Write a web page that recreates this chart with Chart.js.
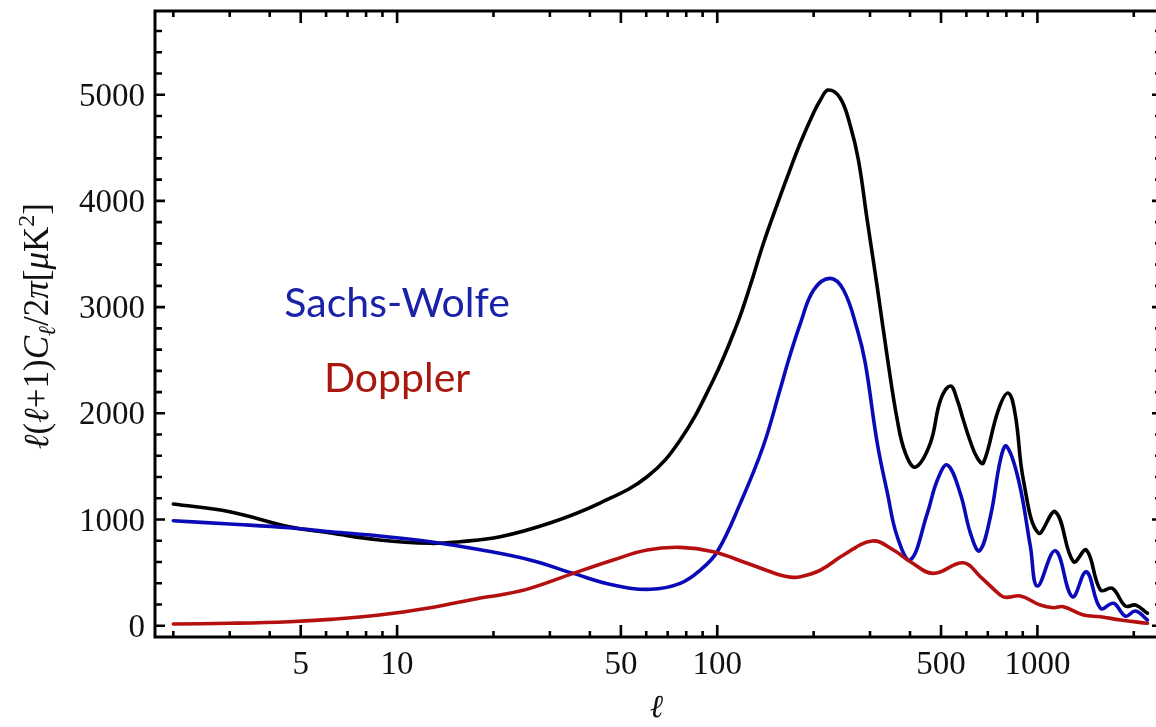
<!DOCTYPE html>
<html><head><meta charset="utf-8">
<script src="https://cdn.jsdelivr.net/npm/chart.js@4"></script>
<style>
html,body{margin:0;padding:0;overflow:hidden;background:#fff;width:1156px;height:727px}
canvas{display:block}
</style></head>
<body>
<canvas id="c" width="1170" height="727" style="width:1170px;height:727px"></canvas>
<script>
// ---- data ----
const ellTotal = [2, 3, 4.6, 6.2, 8.8, 12.7, 15.7, 21, 30, 43, 60.4, 76.6, 97.2, 115, 127, 139, 154, 169, 182, 200, 210, 222, 242, 260, 276, 294, 316, 340, 365, 387, 416, 463, 498, 535, 562, 587, 618, 649, 678, 755, 811, 853, 904, 1007, 1138, 1296, 1422, 1574, 1714, 1884, 2025, 2206];
const total    = [1146, 1073, 932, 873, 807, 776, 791, 838, 967, 1155, 1403, 1749, 2314, 2830, 3210, 3590, 3970, 4300, 4550, 4830, 4950, 5044, 4969, 4715, 4385, 3820, 3189, 2521, 1937, 1626, 1494, 1720, 2125, 2257, 2125, 1937, 1730, 1579, 1532, 2031, 2190, 1984, 1372, 873, 1073, 603, 713, 336, 352, 185, 195, 117];

const ellSW = [2, 3, 4.6, 6.2, 8.8, 12.7, 18.2, 26, 35.5, 47.3, 61.8, 76.6, 88.5, 100, 118, 139, 157, 167, 182, 200, 225, 248, 274, 290, 316, 340, 365, 401, 453, 487, 523, 574, 618, 659, 713, 766, 800, 873, 951, 1000, 1138, 1286, 1422, 1574, 1728, 1884, 2025, 2206];
const sachsWolfe = [989, 958, 923, 885, 845, 791, 715, 619, 493, 383, 343, 399, 524, 697, 1152, 1685, 2219, 2502, 2850, 3161, 3271, 3161, 2784, 2473, 1720, 1249, 838, 619, 1058, 1372, 1513, 1247, 870, 706, 1026, 1560, 1692, 1372, 744, 374, 706, 273, 508, 164, 211, 91, 138, 54];

const ellDop = [2, 3, 4.6, 6.2, 8.8, 12.7, 18.2, 21, 26, 35.5, 47.3, 60.4, 76.6, 97.2, 124, 157, 169, 182, 210, 248, 305, 355, 401, 473, 587, 664, 766, 800, 885, 1021, 1122, 1205, 1393, 1574, 1816, 2206];
const doppler = [16, 23, 38, 60, 101, 170, 262, 289, 352, 493, 619, 713, 738, 697, 588, 477, 458, 461, 524, 666, 798, 713, 603, 493, 593, 461, 289, 267, 280, 195, 170, 179, 101, 85, 54, 23];

const xTickLabels = [5, 10, 50, 100, 500, 1000];
const xMinorTicks = [2,3,4,6,7,8,9,20,30,40,60,70,80,90,200,300,400,600,700,800,900,2000];
const yTickLabels = [0, 1000, 2000, 3000, 4000, 5000];
const yMinorTicks = [200,400,600,800,1200,1400,1600,1800,2200,2400,2600,2800,3200,3400,3600,3800,4200,4400,4600,4800,5200,5400,5600];

const seriesLabels = ['Sachs-Wolfe', 'Doppler'];
const seriesLabelAnchor = { ell: [10, 10], value: [2905, 2200] };

// ---- chart ----
const toPts = (xs, ys) => xs.map((x, i) => ({ x: x, y: ys[i] }));

const framePlugin = {
  id: 'frame',
  afterDatasetsDraw(chart) {
    const { ctx, chartArea: a, scales: { x, y } } = chart;
    ctx.save();
    ctx.strokeStyle = '#000';
    ctx.lineCap = 'butt';
    ctx.lineWidth = 2.6;
    const xt = (v, len) => {
      const px = x.getPixelForValue(v);
      ctx.beginPath();
      ctx.moveTo(px, a.bottom); ctx.lineTo(px, a.bottom - len);
      ctx.moveTo(px, a.top); ctx.lineTo(px, a.top + len);
      ctx.stroke();
    };
    const yt = (v, len) => {
      const py = y.getPixelForValue(v);
      ctx.beginPath();
      ctx.moveTo(a.left, py); ctx.lineTo(a.left + len, py);
      ctx.moveTo(a.right, py); ctx.lineTo(a.right - len, py);
      ctx.stroke();
    };
    xMinorTicks.forEach(v => xt(v, 6));
    xTickLabels.forEach(v => xt(v, 12));
    yMinorTicks.forEach(v => yt(v, 7));
    yTickLabels.forEach(v => yt(v, 10));
    ctx.lineWidth = 3;
    ctx.strokeRect(a.left, a.top, a.right - a.left, a.bottom - a.top);

    // tick labels
    ctx.fillStyle = '#111';
    ctx.font = '33px "Liberation Serif", "Times New Roman", serif';
    ctx.textBaseline = 'alphabetic';
    ctx.textAlign = 'center';
    xTickLabels.forEach(v => ctx.fillText(String(v), x.getPixelForValue(v), a.bottom + 37));
    ctx.textAlign = 'right';
    yTickLabels.forEach(v => ctx.fillText(String(v), a.left - 10, y.getPixelForValue(v) + 11));

    // x axis title
    ctx.textAlign = 'center';
    ctx.font = 'italic 32px "Liberation Serif", serif';
    ctx.fillText('\u2113', (a.left + 1156) / 2 + 1, a.bottom + 80);

    // y axis title (rotated, mixed styles)
    const fs = 35;
    const pieces = [
      { t: '\u2113', it: true }, { t: '(' }, { t: '\u2113', it: true }, { t: '+1)' },
      { t: 'C', it: true }, { t: '\u2113', it: true, sub: true }, { t: '/2' }, { t: '\u03c0', it: true },
      { t: '[' }, { t: '\u03bc', it: true }, { t: 'K' }, { t: '2', sup: true }, { t: ']' }
    ];
    const fontFor = p => (p.it ? 'italic ' : '') + ((p.sub || p.sup) ? Math.round(fs * 0.68) : fs) + 'px "Liberation Serif", serif';
    let tw = 0;
    pieces.forEach(p => { ctx.font = fontFor(p); p.w = ctx.measureText(p.t).width; tw += p.w; });
    ctx.save();
    ctx.translate(48, 326);
    ctx.rotate(-Math.PI / 2);
    ctx.textAlign = 'left';
    let cx = -tw / 2;
    pieces.forEach(p => {
      ctx.font = fontFor(p);
      const dy = p.sub ? 7 : (p.sup ? -14 : 0);
      ctx.fillText(p.t, cx, dy);
      cx += p.w;
    });
    ctx.restore();

    // series labels
    const colors = ['#1a22a8', '#a8180e'];
    const sizes = [41, 41];
    ctx.textAlign = 'center';
    seriesLabels.forEach((t, i) => {
      ctx.font = sizes[i] + 'px Lato, "Open Sans", sans-serif';
      ctx.fillStyle = colors[i];
      ctx.fillText(t, x.getPixelForValue(seriesLabelAnchor.ell[i]), y.getPixelForValue(seriesLabelAnchor.value[i]));
    });
    ctx.restore();
  }
};

const lineStyle = { borderWidth: 3.6, pointRadius: 0, tension: 0.4, fill: false, borderCapStyle: 'round', borderJoinStyle: 'round' };

new Chart(document.getElementById('c'), {
  type: 'line',
  data: {
    datasets: [
      Object.assign({ label: 'Doppler', data: toPts(ellDop, doppler), borderColor: '#b51010' }, lineStyle),
      Object.assign({ label: 'Sachs-Wolfe', data: toPts(ellSW, sachsWolfe), borderColor: '#0a0ab8' }, lineStyle),
      Object.assign({ label: 'Total', data: toPts(ellTotal, total), borderColor: '#000' }, lineStyle)
    ]
  },
  options: {
    responsive: false,
    animation: false,
    devicePixelRatio: 1,
    layout: { padding: { left: 155, top: 11, right: 8, bottom: 90 } },
    plugins: { legend: { display: false }, tooltip: { enabled: false } },
    scales: {
      x: { type: 'logarithmic', min: 1.753, max: 2450, display: false },
      y: { type: 'linear', min: -106, max: 5788, display: false }
    }
  },
  plugins: [framePlugin]
});
</script>
</body></html>
